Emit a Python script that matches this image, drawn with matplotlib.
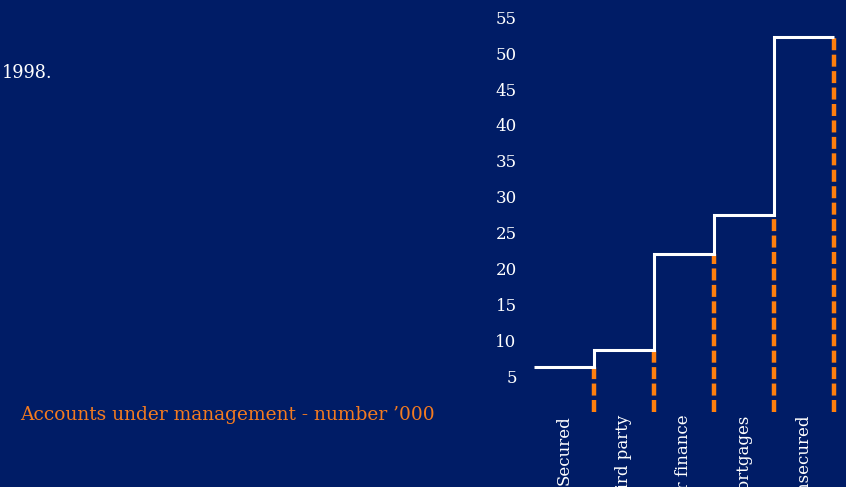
import matplotlib
matplotlib.use("Agg")
import matplotlib.pyplot as plt

categories = ["Secured", "Third party", "Other finance", "Mortgages", "Unsecured"]
cumulative = [6.3, 8.6, 22.0, 27.4, 52.3]
yticks = [5, 10, 15, 20, 25, 30, 35, 40, 45, 50, 55]

BG = "#001C66"
ORANGE = "#FF7F0E"
TITLE_ORANGE = "#F47B20"
SERIF = ["DejaVu Serif"]

fig = plt.figure(figsize=(8.46, 4.87), dpi=100)
fig.patch.set_facecolor(BG)

W, H = 846, 487
ax_left, ax_right = 525, 846
ax_bottom, ax_top = 412, 0
ax = fig.add_axes([ax_left / W, 1 - ax_bottom / H, (ax_right - ax_left) / W, (ax_bottom - ax_top) / H])
ax.set_facecolor(BG)

# step line
xs, ys = [], []
for i, v in enumerate(cumulative):
    xs += [i - 0.5, i + 0.5]
    ys += [v, v]
ax.plot(xs, ys, color="white", lw=2.2, solid_joinstyle="miter", solid_capstyle="butt", zorder=3)

# orange dashed verticals at right edge of each category
for i, v in enumerate(cumulative):
    ax.plot([i + 0.5, i + 0.5], [0, v], color=ORANGE, lw=3.2,
            linestyle=(0, (2.7, 1.0)), solid_capstyle="butt", zorder=2)

ax.set_xlim(-0.65, 4.7)
ax.set_ylim(0, 57.4)
ax.set_yticks(yticks)
ax.set_yticklabels([str(t) for t in yticks], fontsize=12, color="white", family=SERIF)
ax.set_xticks(range(len(categories)))
ax.set_xticklabels(categories, rotation=90, fontsize=12, color="white", family=SERIF,
                   va="top", ha="center")
ax.tick_params(axis="y", length=0, pad=6)
ax.tick_params(axis="x", length=0, pad=2)
for s in ax.spines.values():
    s.set_visible(False)

fig.text(2 / W, 1 - 73 / H, "1998.", color="white", fontsize=12.7, family=SERIF, va="center", ha="left")
fig.text(20 / W, 1 - 415 / H, "Accounts under management - number \u2019000", color=TITLE_ORANGE,
         fontsize=13.4, family=SERIF, va="center", ha="left")

fig.savefig("out.png", dpi=100, facecolor=BG)
